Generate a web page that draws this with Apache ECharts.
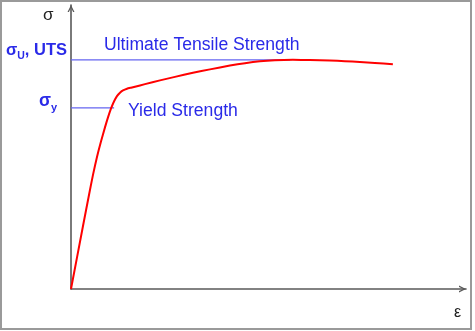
<!DOCTYPE html>
<html>
<head>
<meta charset="utf-8">
<script src="https://cdn.jsdelivr.net/npm/echarts@6/dist/echarts.min.js"></script>
<style>html,body{margin:0;padding:0;background:#fff;}#c{width:475px;height:331px;}</style>
</head>
<body>
<div id="c"></div>
<script>
// stress-strain curve (arbitrary units)
const strain = [0, 3.06, 4.59, 5.61, 6.63, 7.65, 8.67, 9.44, 10.20, 10.97, 11.73, 12.50, 13.27, 14.29, 15.31, 16.33, 18.88, 22.70, 26.53, 31.12, 35.46, 40.56, 44.39, 48.21, 52.04, 56.63, 60.97, 66.07, 69.90, 73.72, 77.55, 82.14];
const stress = [0, 22.42, 33.45, 40.57, 46.98, 52.49, 57.47, 61.03, 64.16, 66.69, 68.61, 69.82, 70.60, 71.21, 71.60, 71.96, 72.85, 74.20, 75.44, 76.87, 78.11, 79.47, 80.32, 80.96, 81.32, 81.49, 81.46, 81.28, 81.03, 80.75, 80.39, 79.93];
const utsValue = 81.5, utsStrainEnd = 55.9;
const yieldValue = 64.4, yieldStrainEnd = 11.0;
const labels = { uts: 'Ultimate Tensile Strength', yield: 'Yield Strength', yAxis: 'σ', xAxis: 'ε' };

const chevron = 'path://M0,100 L50,0 L100,100 L80,100 L50,38 L20,100 Z';
const axisCommon = {
  type: 'value', min: 0,
  axisLine: { show: true, onZero: false, symbol: ['none', chevron], symbolSize: [10, 7], symbolOffset: [0, -3.5],
    lineStyle: { color: '#595959', width: 1.6 } },
  axisTick: { show: false }, axisLabel: { show: false }, splitLine: { show: false }
};
const blueText = '#2a2ae8', blueLine = '#6464f0';
const chart = echarts.init(document.getElementById('c'));
chart.setOption({
  animation: false,
  grid: { left: 71, right: 9, top: 5, bottom: 42 },
  xAxis: Object.assign({}, axisCommon, { max: 100.8 }),
  yAxis: Object.assign({}, axisCommon, { max: 101 }),
  series: [
    { type: 'line', data: [[0, utsValue], [utsStrainEnd, utsValue]], symbol: 'none', lineStyle: { color: blueLine, width: 1.2 }, z: 1 },
    { type: 'line', data: [[0, yieldValue], [yieldStrainEnd, yieldValue]], symbol: 'none', lineStyle: { color: blueLine, width: 1.2 }, z: 1 },
    { type: 'line', data: strain.map((x, i) => [x, stress[i]]), symbol: 'none', smooth: 0.2,
      lineStyle: { color: '#ff0000', width: 2, join: 'round' }, z: 3 }
  ],
  graphic: [
    { type: 'rect', shape: { x: 1, y: 1, width: 470, height: 328 }, style: { fill: 'none', stroke: '#9a9a9a', lineWidth: 2 }, silent: true },
    { type: 'text', x: 43, y: 7, style: { text: labels.yAxis, font: '17px "Liberation Sans"', fill: '#222' } },
    { type: 'text', x: 454, y: 305, style: { text: labels.xAxis, font: '16px "Liberation Sans"', fill: '#222' } },
    { type: 'text', x: 104, y: 36, style: { text: labels.uts, font: '17.6px "Liberation Sans"', fill: blueText } },
    { type: 'text', x: 128, y: 102, style: { text: labels.yield, font: '17.6px "Liberation Sans"', fill: blueText } },
    { type: 'text', x: 67, y: 59, style: { text: '{a|σ}{s|U}{a|, UTS}', align: 'right', verticalAlign: 'bottom',
      rich: { a: { font: 'bold 16.5px "Liberation Sans"', fill: blueText, verticalAlign: 'bottom' },
              s: { font: 'bold 10.5px "Liberation Sans"', fill: blueText, verticalAlign: 'bottom', padding: [0, 0, -3, 0] } } } },
    { type: 'text', x: 57, y: 110, style: { text: '{a|σ}{s|y}', align: 'right', verticalAlign: 'bottom',
      rich: { a: { font: 'bold 17.5px "Liberation Sans"', fill: blueText, verticalAlign: 'bottom' },
              s: { font: 'bold 11px "Liberation Sans"', fill: blueText, verticalAlign: 'bottom', padding: [0, 0, -3, 0] } } } }
  ]
});
</script>
</body>
</html>
